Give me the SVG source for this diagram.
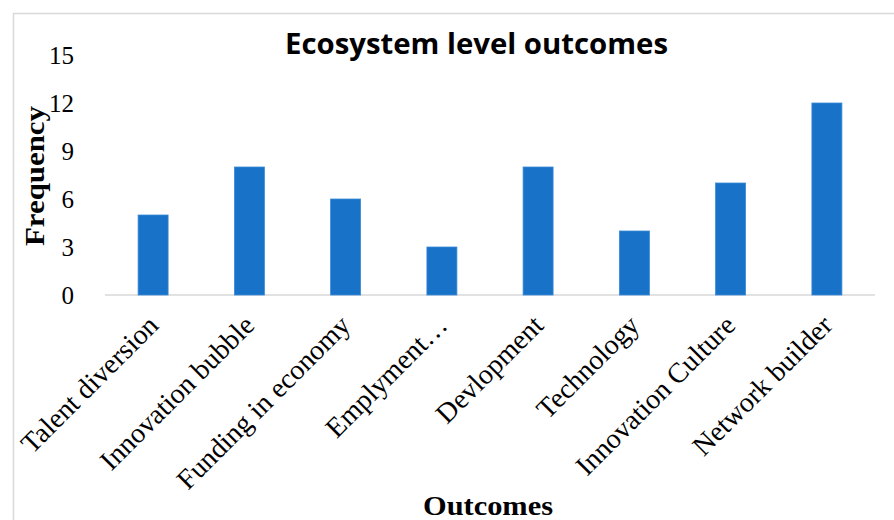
<svg xmlns="http://www.w3.org/2000/svg" width="894" height="520" viewBox="0 0 894 520">
<style>
.frame{fill:#fff;stroke:#d9d9d9;stroke-width:1.5}
.axis{stroke:#d9d9d9;stroke-width:1.5}
.bar{fill:#1772c8;stroke:#3c8ad6;stroke-width:0.8}
.tick{font-family:"Liberation Serif",serif;font-size:25px;fill:#000;text-anchor:end}
.cat{font-family:"Liberation Serif",serif;font-size:28px;fill:#000;text-anchor:end}
.title{font-family:"Open Sans","Liberation Sans",sans-serif;font-weight:bold;font-size:28px;fill:#000;text-anchor:middle}
.axt{font-family:"Liberation Serif",serif;font-weight:bold;font-size:28px;fill:#000;text-anchor:middle}
</style>
<rect class="frame" x="13.5" y="13.5" width="900" height="520"/>
<text class="title" x="476.5" y="54" textLength="383" lengthAdjust="spacingAndGlyphs">Ecosystem level outcomes</text>
<g id="yaxis">
<text class="tick" x="74" y="64">15</text>
<text class="tick" x="74" y="112">12</text>
<text class="tick" x="74" y="160">9</text>
<text class="tick" x="74" y="208">6</text>
<text class="tick" x="74" y="256">3</text>
<text class="tick" x="74" y="304">0</text>
<text class="axt" transform="translate(44,176) rotate(-90)" textLength="140" lengthAdjust="spacingAndGlyphs">Frequency</text>
</g>
<g id="connectors">
<line class="axis" x1="105" y1="295" x2="875" y2="295"/>
</g>
<g id="bars">
<rect id="b1" class="bar" x="138.1" y="215" width="30" height="80"/>
<rect id="b2" class="bar" x="234.4" y="167" width="30" height="128"/>
<rect id="b3" class="bar" x="330.6" y="199" width="30" height="96"/>
<rect id="b4" class="bar" x="426.9" y="247" width="30" height="48"/>
<rect id="b5" class="bar" x="523.1" y="167" width="30" height="128"/>
<rect id="b6" class="bar" x="619.4" y="231" width="30" height="64"/>
<rect id="b7" class="bar" x="715.6" y="183" width="30" height="112"/>
<rect id="b8" class="bar" x="811.9" y="103" width="30" height="192"/>
</g>
<g id="categories">
<text class="cat" transform="translate(160,327) rotate(-45)">Talent diversion</text>
<text class="cat" transform="translate(256,327) rotate(-45)">Innovation bubble</text>
<text class="cat" transform="translate(352,327) rotate(-45)">Funding in economy</text>
<text class="cat" transform="translate(449,327) rotate(-45)">Emplyment…</text>
<text class="cat" transform="translate(545,327) rotate(-45)">Devlopment</text>
<text class="cat" transform="translate(641,327) rotate(-45)">Technology</text>
<text class="cat" transform="translate(737,327) rotate(-45)">Innovation Culture</text>
<text class="cat" transform="translate(834,327) rotate(-45)">Network builder</text>
</g>
<text class="axt" x="488" y="515" textLength="130" lengthAdjust="spacingAndGlyphs">Outcomes</text>
</svg>
